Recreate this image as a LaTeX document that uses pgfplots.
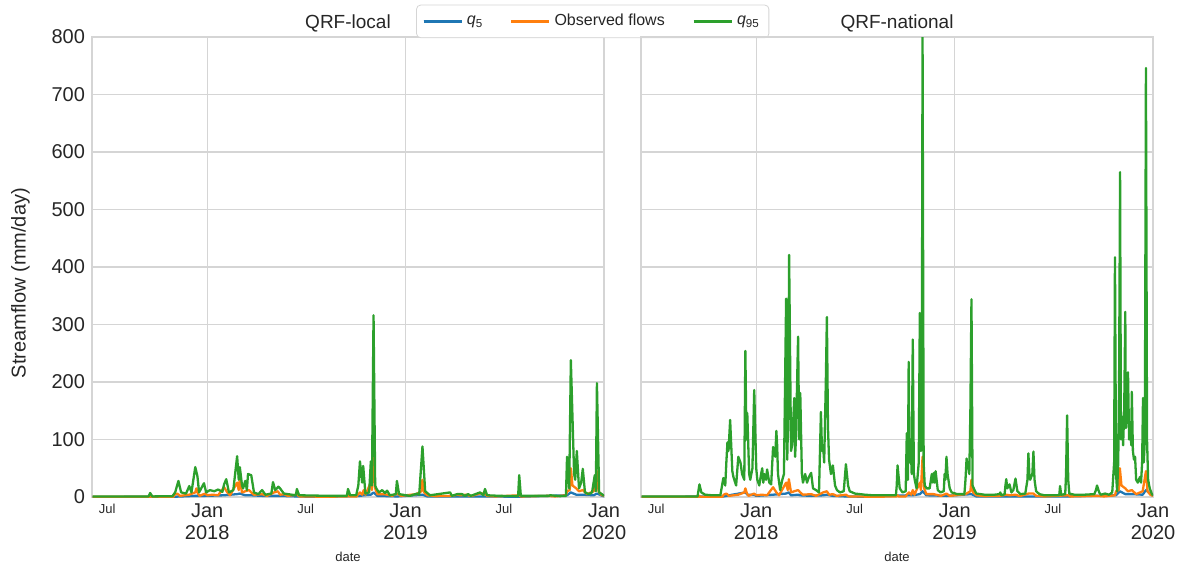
\documentclass[border=0pt]{standalone}
\usepackage{fontspec}
\setmainfont{Liberation Sans}
\usepackage{pgfplots}
\usepackage{pgfplotstable}
\pgfplotsset{compat=1.18}
\definecolor{tabblue}{HTML}{1F77B4}
\definecolor{taborange}{HTML}{FF7F0E}
\definecolor{tabgreen}{HTML}{2CA02C}
\definecolor{gridc}{HTML}{D5D5D5}
\definecolor{txt}{HTML}{262626}

% x = days since 2018-01-01
\pgfplotstableread{
day val
-211 0.3
-106 0.5
-105 2
-103 0.4
-62 0.5
-60 4
-55 6
-50 2
-33 4
-22 8
-20 15
-17 6
-14 2
-4 6
0 3
10 4
20 3
31 17
37 8
42 3
55 25
58 12
60 31
64 8
70 10
77 12
81 8
86 4
101 5
110 2
119 6
123 8
130 10
134 4
141 5
148 2
165 4
170 1
220 0.5
258 1
260 3
262 1
275 1
277 4
281 8
285 4
288 12
291 4
301 25
303 12
306 70
309 15
313 5
326 5
331 4
340 2
350 6
356 2
385 5
394 10
396 30
399 8
405 3
420 1.5
449 2
460 4
466 3
477 4
485 1.5
501 6
510 6
515 2
530 1
574 3
577 1
627 2
640 1
660 3
662 10
667 12
669 50
672 20
679 15
684 10
691 12
699 5
711 10
717 45
720 10
725 4
730 2
}\obs

\pgfplotstableread{
day val
-211 0
-60 0.5
-22 2
-4 2
31 3
55 5
60 6
70 3
81 3
101 2
130 2
165 1
200 0.3
281 2
288 3
301 4
306 8
313 2
350 1
396 4
405 1
510 1
572 0.5
662 3
669 8
679 4
691 4
711 3
717 6
730 1
}\qlocfive

\pgfplotstableread{
day val
-211 0.2
-60 1
-50 3
-20 8
-16 4
-4 4
0 2
31 4
55 6
60 8
64 3
77 4
81 3
101 2
123 3
130 4
141 2
165 1
200 0.5
281 3
288 3
301 5
306 10
313 3
350 2
396 5
405 1
510 1
572 1
662 3
669 10
679 5
691 5
711 4
717 12
730 2
}\qnatfive

\pgfplotstableread{
day val
-211 1
-108 1
-105 7
-101 1
-64 1.5
-59 8
-53 28
-48 8
-39 6
-33 19
-29 8
-22 52
-18 36
-15 8
-6 24
-2 8
5 12
13 10
20 13
28 9
31 22
35 31
40 8
48 12
55 71
58 30
60 52
64 20
66 15
70 28
73 12
75 40
81 38
86 8
94 5
101 12
107 4
118 6
121 26
125 12
131 18
134 15
141 6
163 3
165 14
169 3
226 2
257 2
259 14
263 3
274 3
278 20
281 62
285 25
287 54
291 6
298 8
301 62
303 20
306 316
309 20
311 15
316 8
322 12
327 7
331 11
336 3
347 5
349 28
353 5
373 2
386 6
390 4
396 88
401 10
410 3
447 8
450 2
460 5
469 5
474 2
480 5
485 2
502 8
508 3
511 14
515 3
539 2
572 1.5
574 38
577 2
629 2
631 3
649 1.5
660 2
662 70
666 15
669 238
675 40
677 30
680 80
684 15
688 25
691 49
695 8
702 5
708 8
713 38
715 10
717 198
721 8
726 5
730 2
}\qlocnf

\pgfplotstableread{
day val
-211 1
-108 1
-104.5 22
-101 8
-94 4
-81 3
-66 3
-60.5 33
-57 20
-55 60
-53 95
-51 80
-48 134
-44 45
-42 35
-37 20
-33 70
-29 60
-26 40
-22 30
-20 254
-18 100
-16.5 146
-13 40
-11 30
-7 50
-3.7 186
0 50
2 30
5.5 20
9 40
11 50
13 25
15 40
18 30
20 48
24 25
27.5 22
31 87
35 70
37 115
38.5 90
40 40
44 12
48 30
51 40
55 345
57 65
59 150
60.5 421
64 80
66 90
70 172
71.5 70
73 100
77 279
79 100
81 181
84 40
86 25
90 40
93.5 25
97 35
101 42
104.5 15
110 12
115.5 8
119 148
121 80
123 90
125 60
128 198
130 313
132 120
134 65
137.5 40
141 55
145 20
148.5 12
154 8
161 10
165 57
169 20
172 10
181.5 6
200 4
214.5 3
227 3
246 3
257 3
258.5 20
260 55
264 15
269 8
275 10
277 111
279 30
280.5 235
282 60
284 100
286 40
288 274
290 40
291.6 30
295 15
299 60
301 320
303 80
304.5 100
306 800
308 60
310 20
313.6 15
319 15
323 40
325 25
326.8 42
328.5 25
330 45
334 12
339 8
345 10
346.6 40
348 30
350 70
352 40
356 15
359.5 8
370 5
383 5
385 30
387 67
389 50
390.6 52
392 40
394 150
396 344
398 20
401.6 12
405 6
420 4
438 4
447.5 5
449 8
451 3
457 5
458.5 20
460 31
462 15
466 22
469.5 8
473 12
477 32
480.5 10
486 5
495 6
499 30
500.7 76
502.5 40
504 30
508 40
510 79
512 30
515 10
521 5
530 3
548 3
557.5 3
559 19
561 4
568.5 5
570 40
572 142
574 30
576 6
585 4
603 4
622 5
625 12
627 20
631 8
634 4
642 6
649 4
655 8
658.5 60
660 417
662 40
664 10
666 60
667.6 200
669.4 565
671 100
673 140
675 90
677 150
679 322
680 120
682 150
684 217
686 100
688 130
690 90
691 183
693 80
695 65
697 70
699 30
702 25
706 35
708 25
710 60
711.6 172
713 60
715 100
717 746
719 100
721 30
724 15
728 5
730 3
}\qnatnf

\pgfplotsset{
  panel/.style={
    scale only axis, width=256pt, height=230pt,
    xmin=-212, xmax=730, ymin=0, ymax=800,
    axis line style={gridc, line width=0.8pt},
    grid=major, grid style={gridc, line width=0.6pt},
    tick style={draw=none},
    ytick={0,100,...,800},
    xtick={0,365,730},
    xticklabels={Jan\\2018,Jan\\2019,Jan\\2020},
    xticklabel style={align=center, font=\fontsize{10}{11}\selectfont, text=txt},
    yticklabel style={font=\fontsize{10}{12}\selectfont, text=txt},
    extra x ticks={-184,181,546},
    extra x tick labels={Jul,Jul,Jul},
    extra x tick style={grid=none, xticklabel style={font=\fontsize{6.5}{7}\selectfont}},
    /pgf/number format/assume math mode=true,
    xlabel={date}, xlabel style={font=\fontsize{6.5}{7}\selectfont, text=txt, yshift=1pt},
    title style={font=\fontsize{9.5}{11}\selectfont, text=txt, yshift=-7pt},
    every axis plot/.append style={line width=1.15pt, line join=round, mark=none},
  }
}

\begin{document}
\begin{tikzpicture}
\begin{axis}[panel,
  title={QRF-local},
  ylabel={Streamflow (mm/day)},
  ylabel style={font=\fontsize{10}{12}\selectfont, text=txt, at={(ticklabel cs:0.465)}},
  ylabel shift=4pt,
  legend style={at={(0.978,1.034)}, anchor=center, legend columns=3,
    draw=gridc, rounded corners=2pt, font=\fontsize{8}{9.5}\selectfont, text=txt,
    inner ysep=2.5pt,
    /tikz/every even column/.append style={column sep=12pt}},
  legend image code/.code={\draw[#1, line width=0.9pt] (0pt,0pt) -- (16.5pt,0pt); \path (0pt,0pt) -- (19pt,0pt);},
]
\addplot[tabblue] table[x=day,y=val] {\qlocfive};
\addlegendentry{\textit{q}\raisebox{-0.35ex}{\fontsize{5.8}{6}\selectfont 5}}
\addplot[taborange] table[x=day,y=val] {\obs};
\addlegendentry{Observed flows}
\addplot[tabgreen] table[x=day,y=val] {\qlocnf};
\addlegendentry{\textit{q}\raisebox{-0.35ex}{\fontsize{5.8}{6}\selectfont 95}}
\end{axis}
\begin{axis}[panel, at={(274.5pt,0pt)}, anchor=south west,
  title={QRF-national},
  yticklabels={},
]
\addplot[tabblue] table[x=day,y=val] {\qnatfive};
\addplot[taborange] table[x=day,y=val] {\obs};
\addplot[tabgreen] table[x=day,y=val] {\qnatnf};
\end{axis}
\pgfresetboundingbox
\path[use as bounding box] (-46pt,-33.5pt) rectangle (545pt,248.5pt);
\end{tikzpicture}
\end{document}
